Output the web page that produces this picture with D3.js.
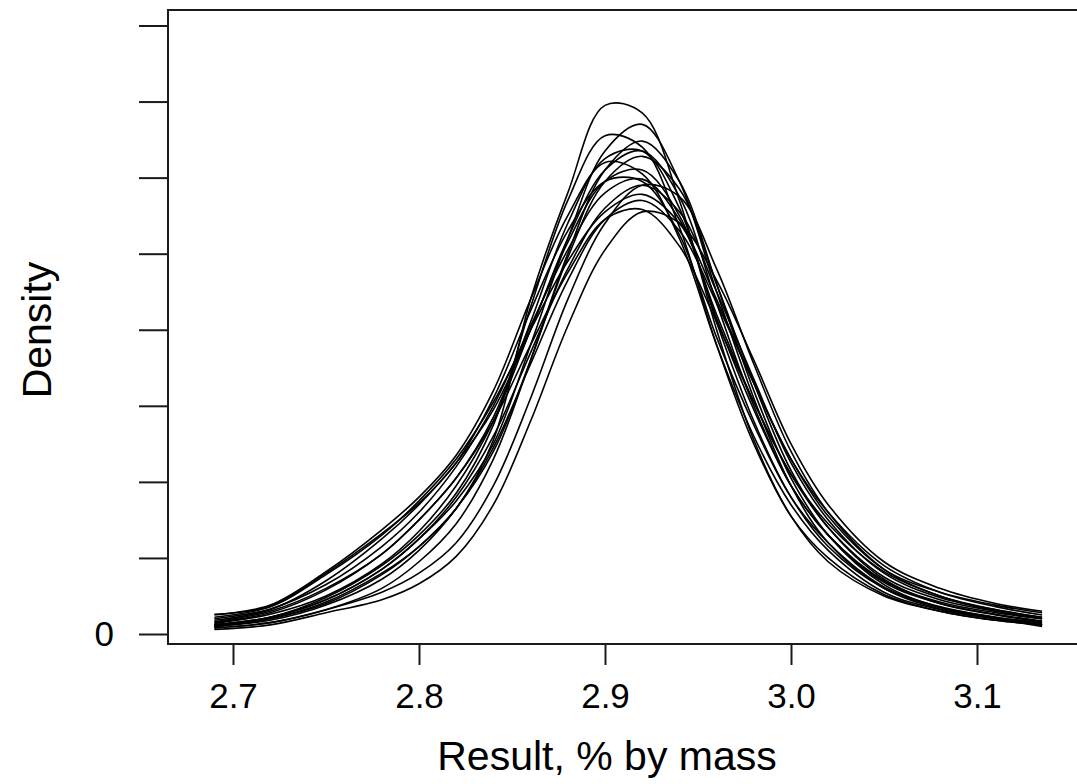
<!DOCTYPE html>
<html>
<head>
<meta charset="utf-8">
<script src="https://cdn.jsdelivr.net/npm/d3@7"></script>
<style>
  body { margin: 0; background: #fff; }
  svg { display: block; }
  text { font-family: "Liberation Sans", Arial, sans-serif; fill: #000; }
</style>
</head>
<body>
<script>
const width = 1077;
const height = 784;

// x positions (result, % by mass) where each density curve was read
const xGrid = [2.69, 2.72, 2.75, 2.78, 2.80, 2.82, 2.84, 2.86, 2.88, 2.90,
               2.92, 2.94, 2.96, 2.98, 3.00, 3.02, 3.05, 3.08, 3.11, 3.135];

// density values (in y tick units)
const curve1  = [0.10, 0.20, 0.42, 0.80, 1.15, 1.65, 2.55, 4.40, 5.80, 6.95, 6.85, 5.70, 4.00, 2.55, 1.55, 0.95, 0.50, 0.30, 0.18, 0.12];
const curve2  = [0.12, 0.22, 0.45, 0.85, 1.25, 1.75, 2.50, 3.80, 5.20, 6.35, 6.70, 5.95, 4.50, 3.10, 1.95, 1.20, 0.60, 0.33, 0.20, 0.12];
const curve3  = [0.08, 0.15, 0.32, 0.60, 0.95, 1.45, 2.30, 3.60, 5.00, 6.10, 6.48, 5.95, 4.60, 3.20, 2.05, 1.30, 0.65, 0.35, 0.20, 0.10];
const curve4  = [0.15, 0.28, 0.58, 1.05, 1.50, 2.05, 2.85, 4.10, 5.40, 6.25, 6.35, 5.60, 4.10, 2.80, 1.80, 1.15, 0.60, 0.35, 0.22, 0.14];
const curve5  = [0.18, 0.32, 0.70, 1.25, 1.70, 2.25, 2.95, 4.00, 5.20, 6.10, 6.35, 5.75, 4.35, 3.00, 1.95, 1.30, 0.70, 0.42, 0.28, 0.20];
const curve6  = [0.25, 0.38, 0.82, 1.37, 1.80, 2.35, 3.20, 4.40, 5.50, 6.20, 6.05, 5.20, 3.80, 2.60, 1.70, 1.10, 0.55, 0.32, 0.20, 0.12];
const curve7  = [0.14, 0.26, 0.50, 0.92, 1.35, 1.95, 2.80, 4.00, 5.15, 5.95, 6.10, 5.50, 4.15, 2.95, 1.95, 1.30, 0.68, 0.40, 0.26, 0.17];
const curve8  = [0.20, 0.33, 0.65, 1.15, 1.60, 2.20, 3.00, 4.05, 5.05, 5.80, 5.98, 5.45, 4.20, 3.05, 2.10, 1.40, 0.75, 0.45, 0.30, 0.20];
const curve9  = [0.12, 0.22, 0.45, 0.85, 1.25, 1.80, 2.60, 3.70, 4.80, 5.60, 5.90, 5.55, 4.50, 3.35, 2.25, 1.50, 0.80, 0.48, 0.32, 0.22];
const curve10 = [0.26, 0.36, 0.78, 1.30, 1.75, 2.30, 3.05, 4.00, 4.90, 5.55, 5.78, 5.40, 4.40, 3.30, 2.30, 1.55, 0.85, 0.55, 0.38, 0.28];
const curve11 = [0.10, 0.18, 0.38, 0.72, 1.10, 1.65, 2.45, 3.55, 4.65, 5.45, 5.70, 5.30, 4.35, 3.30, 2.30, 1.60, 0.90, 0.55, 0.36, 0.25];
const curve12 = [0.16, 0.30, 0.60, 1.05, 1.50, 2.05, 2.80, 3.80, 4.75, 5.45, 5.58, 5.10, 4.10, 3.05, 2.10, 1.45, 0.82, 0.50, 0.32, 0.22];
const curve13 = [0.06, 0.12, 0.28, 0.45, 0.66, 1.02, 1.70, 2.80, 4.05, 5.05, 5.55, 5.40, 4.65, 3.60, 2.50, 1.70, 0.95, 0.60, 0.40, 0.30];
const curve14 = [0.10, 0.20, 0.40, 0.78, 1.15, 1.65, 2.40, 3.60, 4.95, 5.95, 6.28, 5.85, 4.60, 3.30, 2.15, 1.40, 0.72, 0.40, 0.25, 0.16];
const curve15 = [0.22, 0.36, 0.80, 1.32, 1.72, 2.25, 3.10, 4.25, 5.30, 5.95, 5.95, 5.25, 3.90, 2.75, 1.80, 1.20, 0.62, 0.36, 0.22, 0.15];
const curve16 = [0.08, 0.15, 0.32, 0.55, 0.80, 1.20, 1.95, 3.10, 4.40, 5.40, 5.90, 5.75, 4.80, 3.55, 2.40, 1.60, 0.85, 0.50, 0.30, 0.20];
const curve17 = [0.12, 0.22, 0.48, 0.90, 1.30, 1.85, 2.75, 4.30, 5.70, 6.55, 6.40, 5.35, 3.80, 2.50, 1.55, 1.00, 0.52, 0.30, 0.18, 0.12];

const curves = [curve1, curve2, curve3, curve4, curve5, curve6, curve7, curve8, curve9,
                curve10, curve11, curve12, curve13, curve14, curve15, curve16, curve17];

// axis ticks
const xTicks = [2.7, 2.8, 2.9, 3.0, 3.1];
const yTicks = [0, 1, 2, 3, 4, 5, 6, 7, 8];
const yTickLabels = ["0", "", "", "", "", "", "", "", ""];

// Plot box and scales.
const box = { left: 168, top: 10, right: 1095, bottom: 644 };

const x = d3.scaleLinear().domain([2.7, 3.1]).range([233, 977]);
const y = d3.scaleLinear().domain([0, 8]).range([634, 25.5]);

const svg = d3.select("body").append("svg")
  .attr("width", width)
  .attr("height", height);

// Frame around the plot.
svg.append("rect")
  .attr("x", box.left)
  .attr("y", box.top)
  .attr("width", box.right - box.left)
  .attr("height", box.bottom - box.top)
  .attr("fill", "none")
  .attr("stroke", "#1a1a1a")
  .attr("stroke-width", 2);

// Density curves.
const line = d3.line()
  .x((d, i) => x(xGrid[i]))
  .y(d => y(d))
  .curve(d3.curveCatmullRom.alpha(0.5));

svg.append("g")
  .selectAll("path")
  .data(curves)
  .enter()
  .append("path")
  .attr("d", line)
  .attr("fill", "none")
  .attr("stroke", "#000")
  .attr("stroke-width", 1.6);

// Y axis: ticks on the left of the frame, only zero labelled.
const yAxis = d3.axisLeft(y)
  .tickValues(yTicks)
  .tickSize(29)
  .tickPadding(25)
  .tickFormat((d, i) => yTickLabels[i]);

const gy = svg.append("g")
  .attr("transform", `translate(${box.left},0)`)
  .call(yAxis);
gy.select(".domain").remove();
gy.selectAll(".tick line").attr("stroke", "#1a1a1a").attr("stroke-width", 2);
gy.selectAll(".tick text")
  .attr("font-size", 35)
  .attr("font-family", null);

// X axis: ticks below the frame.
const xAxis = d3.axisBottom(x)
  .tickValues(xTicks)
  .tickSize(21)
  .tickPadding(18)
  .tickFormat(d3.format(".1f"));

const gx = svg.append("g")
  .attr("transform", `translate(0,${box.bottom})`)
  .call(xAxis);
gx.select(".domain").remove();
gx.selectAll(".tick line").attr("stroke", "#1a1a1a").attr("stroke-width", 2);
gx.selectAll(".tick text")
  .attr("font-size", 35)
  .attr("font-family", null);

// Axis titles.
svg.append("text")
  .attr("x", 607)
  .attr("y", 770)
  .attr("text-anchor", "middle")
  .attr("font-size", 41)
  .text("Result, % by mass");

svg.append("text")
  .attr("transform", "translate(51,330) rotate(-90)")
  .attr("text-anchor", "middle")
  .attr("font-size", 41)
  .text("Density");
</script>
</body>
</html>
